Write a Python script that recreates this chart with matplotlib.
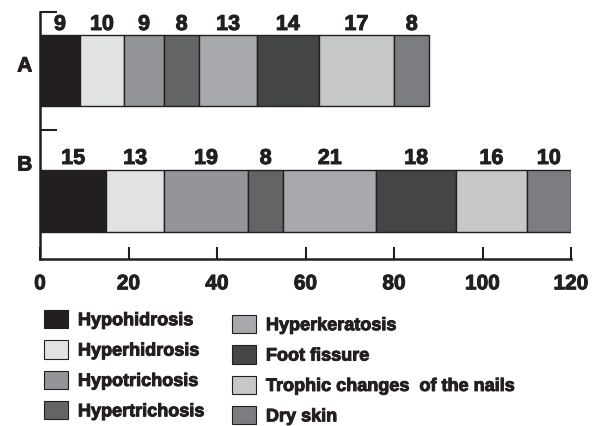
import matplotlib
matplotlib.use("Agg")
import matplotlib.pyplot as plt
import matplotlib.patheffects as pe
from matplotlib.patches import Patch

plt.rcParams['font.family'] = ['Liberation Sans', 'DejaVu Sans']
plt.rcParams['font.weight'] = 'bold'

# donnees
groupes = ['A', 'B']
symptomes = ['Hypohidrosis', 'Hyperhidrosis', 'Hypotrichosis', 'Hypertrichosis',
             'Hyperkeratosis', 'Foot fissure', 'Trophic changes  of the nails', 'Dry skin']
valeurs_A = [9, 10, 9, 8, 13, 14, 17, 8]
valeurs_B = [15, 13, 19, 8, 21, 18, 16, 10]
couleurs = ['#231f20', '#e1e2e4', '#939598', '#636466',
            '#a7a9ac', '#444547', '#c6c7c9', '#7c7d80']
x_ticks = [0, 20, 40, 60, 80, 100, 120]

# un peu plus gras que le bold de Liberation
gras = [pe.withStroke(linewidth=0.7, foreground='#231f20')]

fig = plt.figure(figsize=(6.09, 4.27), dpi=100)
ax = fig.add_axes([40 / 609, 167 / 427, 531 / 609, 247 / 427])

# position / epaisseur des barres (en unites de l'axe)
pos = {'A': 188.5, 'B': 58}
epais = {'A': 71, 'B': 62}
decal = {'A': 0, 'B': 1}
valeurs = {'A': valeurs_A, 'B': valeurs_B}

for g in groupes:
    gauche = 0
    for v, c in zip(valeurs[g], couleurs):
        ax.barh(pos[g], v, left=gauche, height=epais[g], color=c,
                edgecolor='#231f20', linewidth=1)
        ax.text(gauche + v / 2, pos[g] + epais[g] / 2 + decal[g], str(v),
                ha='center', va='bottom', fontsize=15.5, fontweight='bold',
                color='#231f20', path_effects=gras)
        gauche += v

ax.set_xlim(0, 120)
ax.set_ylim(0, 247)
ax.set_xticks(x_ticks)
ax.set_xticklabels([str(t) for t in x_ticks], fontsize=15, fontweight='bold', color='#231f20')
ax.set_yticks([247, 129])
ax.set_yticklabels(['', ''])
ax.set_yticks([195, 96], minor=True)
ax.set_yticklabels(groupes, minor=True, fontsize=15, fontweight='bold', color='#231f20')
ax.tick_params(axis='y', which='minor', length=0, pad=5.5)
ax.tick_params(axis='y', which='major', direction='in', length=12, width=1.5, color='#231f20')
ax.tick_params(axis='x', direction='in', length=9, width=1.5, pad=11, color='#231f20')
for t in ax.get_xticklabels() + ax.get_yticklabels(minor=True):
    t.set_path_effects(gras)

for s in ['top', 'right']:
    ax.spines[s].set_visible(False)
for s in ['left', 'bottom']:
    ax.spines[s].set_linewidth(1.8)
    ax.spines[s].set_color('#231f20')

# legende en deux colonnes
handles = [Patch(facecolor=c, edgecolor='#231f20', linewidth=0.8) for c in couleurs]
kw = dict(frameon=False, fontsize=13, handlelength=1.33, handleheight=1.17,
          handletextpad=0.55, labelspacing=0.62, borderpad=0, borderaxespad=0,
          loc='upper left')
leg1 = fig.legend(handles[:4], symptomes[:4], bbox_to_anchor=(44 / 609, 1 - 311 / 427), **kw)
leg2 = fig.legend(handles[4:], symptomes[4:], bbox_to_anchor=(232 / 609, 1 - 316 / 427), **kw)
for leg in (leg1, leg2):
    for t in leg.get_texts():
        t.set_fontweight('bold')
        t.set_color('#231f20')
        t.set_path_effects(gras)

fig.savefig('out.png', dpi=100)
